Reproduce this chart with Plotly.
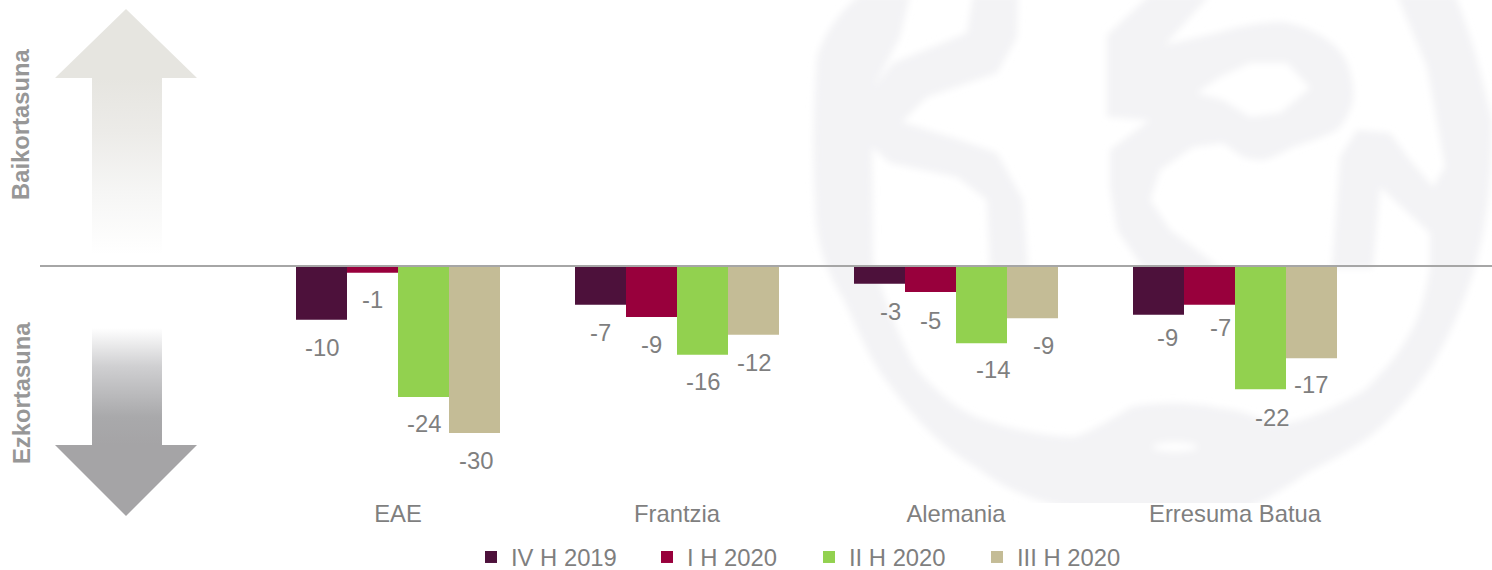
import base64
import plotly.graph_objects as go

# ---- data -------------------------------------------------------------
countries = ["EAE", "Frantzia", "Alemania", "Erresuma Batua"]
series_names = ["IV H 2019", "I H 2020", "II H 2020", "III H 2020"]
iv_h_2019 = [-9.7, -7.0, -3.2, -8.8]
i_h_2020 = [-1.2, -9.2, -4.7, -7.0]
ii_h_2020 = [-23.6, -16.0, -13.9, -22.2]
iii_h_2020 = [-30.1, -12.4, -9.4, -16.6]
iv_labels = [-10, -7, -3, -9]
i_labels = [-1, -9, -5, -7]
ii_labels = [-24, -16, -14, -22]
iii_labels = [-30, -12, -9, -17]

# ---- style ------------------------------------------------------------
colors = ["#4d113b", "#98003c", "#92d14f", "#c4bc96"]
TEXT = "#7f7f7f"
FONT = "Liberation Sans"
W, H = 1492, 570
FIG_H = 600   # taller than the window so the legends do not push the plot margin
PLOT_BOTTOM = 497
ZERO_PX = 266
PX_PER_UNIT = 5.55
BAND_PX = 279
FIRST_CENTER_PX = 398
BAR_PX = 51
BARGAP = 1 - 4 * BAR_PX / BAND_PX
x_shift = [[0, 0, 11, 9], [0, 0, 0, 11], [0, 0, 11, 11], [1, 0, 11, -1]]   # per series, per country
y_shift = [[28, 28, 28, 23], [27, 27, 28, 23], [27, 27, 26, 28], [27, 28, 27, 26]]
legend_x_px = [471, 647, 809, 977]

WM = "#f3f3f5"
svg = f'''<svg xmlns="http://www.w3.org/2000/svg" width="{W}" height="{H}" viewBox="0 0 {W} {H}">
<defs>
<linearGradient id="u" gradientUnits="userSpaceOnUse" x1="0" y1="78" x2="0" y2="255">
<stop offset="0" stop-color="#e6e5e0"/><stop offset="0.3" stop-color="#ecebe8"/><stop offset="0.65" stop-color="#f6f6f5"/><stop offset="1" stop-color="#ffffff"/></linearGradient>
<linearGradient id="d" gradientUnits="userSpaceOnUse" x1="0" y1="328" x2="0" y2="445">
<stop offset="0" stop-color="#ffffff"/><stop offset="0.33" stop-color="#cfcfd1"/><stop offset="0.76" stop-color="#a9a9ab"/><stop offset="1" stop-color="#a5a4a6"/></linearGradient>
<filter id="b" x="-5%" y="-5%" width="110%" height="110%"><feGaussianBlur stdDeviation="3.5"/></filter>
<clipPath id="c"><rect x="0" y="0" width="{W}" height="503"/></clipPath>
</defs>
<g clip-path="url(#c)"><g filter="url(#b)" fill="{WM}">
<path d="M860,-5 C835,15 822,40 817,57 C813,110 813,160 815,200 C815,240 825,270 844,300 C860,335 870,360 888,383 C915,420 945,450 976,467 C1005,490 1040,505 1090,512 L1240,512 C1270,498 1290,485 1307,473 C1335,458 1355,448 1374,433 C1400,410 1415,390 1431,367 C1450,335 1465,300 1475,267 C1487,225 1492,180 1492,120 L1483,83 C1475,50 1465,20 1455,-5 L1397,-5 L1427,67 L1445,167 L1433,187 L1410,160 L1390,133 L1357,130 L1340,157 L1337,200 L1332,268 L1373,268 L1380,187 L1430,233 L1430,267 C1425,300 1418,320 1409,335 C1395,360 1380,375 1365,390 C1340,405 1300,425 1270,425 C1255,415 1240,410 1219,408 C1190,402 1160,402 1131,407 C1110,420 1095,430 1074,437 C1050,437 1010,430 976,417 C950,405 930,385 915,367 C900,340 885,300 873,263 L872,147 L890,163 L957,177 L987,200 L990,268 L1028,268 L1023,200 L997,153 L960,140 L902,122 L927,97 L997,73 L1017,37 L1018,-5 L973,-5 L967,33 L893,63 L873,88 L900,37 L910,-5 Z"/>
<path d="M1107,35 L1150,-5 L1210,-5 L1165,45 L1217,33 C1240,26 1262,22 1283,22 C1300,25 1312,30 1323,37 C1335,45 1343,53 1347,63 C1352,75 1354,88 1353,100 C1350,112 1345,122 1337,130 C1322,138 1308,142 1293,147 C1283,152 1273,158 1263,160 C1252,160 1243,158 1237,153 L1223,143 L1193,147 L1160,170 L1150,200 L1170,230 L1193,247 L1220,268 L1143,268 L1117,230 L1110,187 L1110,150 L1150,120 L1107,117 Z"/>
</g>
<g filter="url(#b)" fill="#ffffff"><path d="M1220,77 L1250,63 L1287,63 L1310,88 L1280,113 L1250,117 L1223,100 L1197,93 Z"/>
<ellipse cx="1175" cy="447" rx="22" ry="5"/></g></g>
<path d="M126,9 L197,78 L162,78 L162,255 L92,255 L92,78 L55,78 Z" fill="url(#u)"/>
<path d="M92,328 L162,328 L162,445 L197,445 L126,516 L55,445 L92,445 Z" fill="url(#d)"/>
</svg>'''
src = "data:image/svg+xml;base64," + base64.b64encode(svg.encode()).decode()

# ---- figure -----------------------------------------------------------
fig = go.Figure()
all_values = [iv_h_2019, i_h_2020, ii_h_2020, iii_h_2020]
all_labels = [iv_labels, i_labels, ii_labels, iii_labels]
slot = (1 - BARGAP) / 4
annotations = []
for s, (name, vals, labs, col) in enumerate(zip(series_names, all_values, all_labels, colors)):
    legend_id = "legend" if s == 0 else f"legend{s + 1}"
    fig.add_trace(go.Bar(name=name, x=countries, y=vals, marker=dict(color=col, line=dict(width=0)),
                         legend=legend_id, hoverinfo="skip"))
    for c, (v, lab) in enumerate(zip(vals, labs)):
        annotations.append(dict(x=c + (s - 1.5) * slot, y=v, xref="x", yref="y", text=str(lab), showarrow=False,
                                xanchor="center", yanchor="middle", xshift=x_shift[s][c], yshift=-y_shift[s][c],
                                font=dict(family=FONT, size=23.8, color=TEXT)))

for text, y_px in (("Baikortasuna", 124), ("Ezkortasuna", 393)):
    annotations.append(dict(x=21 / W, y=1 - y_px / PLOT_BOTTOM, xref="paper", yref="paper", text=f"<b>{text}</b>",
                            showarrow=False, textangle=-90, xanchor="center", yanchor="middle",
                            font=dict(family=FONT, size=23.8, color="#979797")))

legends = {}
for s in range(4):
    key = "legend" if s == 0 else f"legend{s + 1}"
    legends[key] = dict(x=legend_x_px[s] / W, y=-60 / PLOT_BOTTOM, xanchor="left", yanchor="middle", orientation="h",
                        bgcolor="rgba(0,0,0,0)", font=dict(family=FONT, size=23.8, color=TEXT))

fig.update_layout(
    width=W, height=FIG_H, margin=dict(l=0, r=0, t=0, b=FIG_H - PLOT_BOTTOM, pad=0), autosize=False,
    paper_bgcolor="white", plot_bgcolor="rgba(0,0,0,0)", barmode="group", bargap=BARGAP, bargroupgap=0,
    showlegend=True, annotations=annotations,
    images=[dict(source=src, xref="paper", yref="paper", x=0, y=1, sizex=1, sizey=H / PLOT_BOTTOM,
                 sizing="stretch", xanchor="left", yanchor="top", layer="below")],
    shapes=[dict(type="line", xref="paper", yref="y", x0=40 / W, x1=1, y0=0, y1=0,
                 line=dict(color="#a6a6a6", width=2), layer="above")],
    xaxis=dict(type="category", range=[-FIRST_CENTER_PX / BAND_PX, (W - FIRST_CENTER_PX) / BAND_PX],
               showgrid=False, zeroline=False, showline=False, ticks="", ticklen=0,
               tickfont=dict(family=FONT, size=23.8, color=TEXT)),
    yaxis=dict(range=[-(PLOT_BOTTOM - ZERO_PX) / PX_PER_UNIT, ZERO_PX / PX_PER_UNIT], visible=False),
    **legends,
)
fig.write_html("out.html", config=dict(displayModeBar=False),
               post_script="document.body.style.margin='0';document.documentElement.style.overflow='hidden';document.body.style.overflow='hidden';")
